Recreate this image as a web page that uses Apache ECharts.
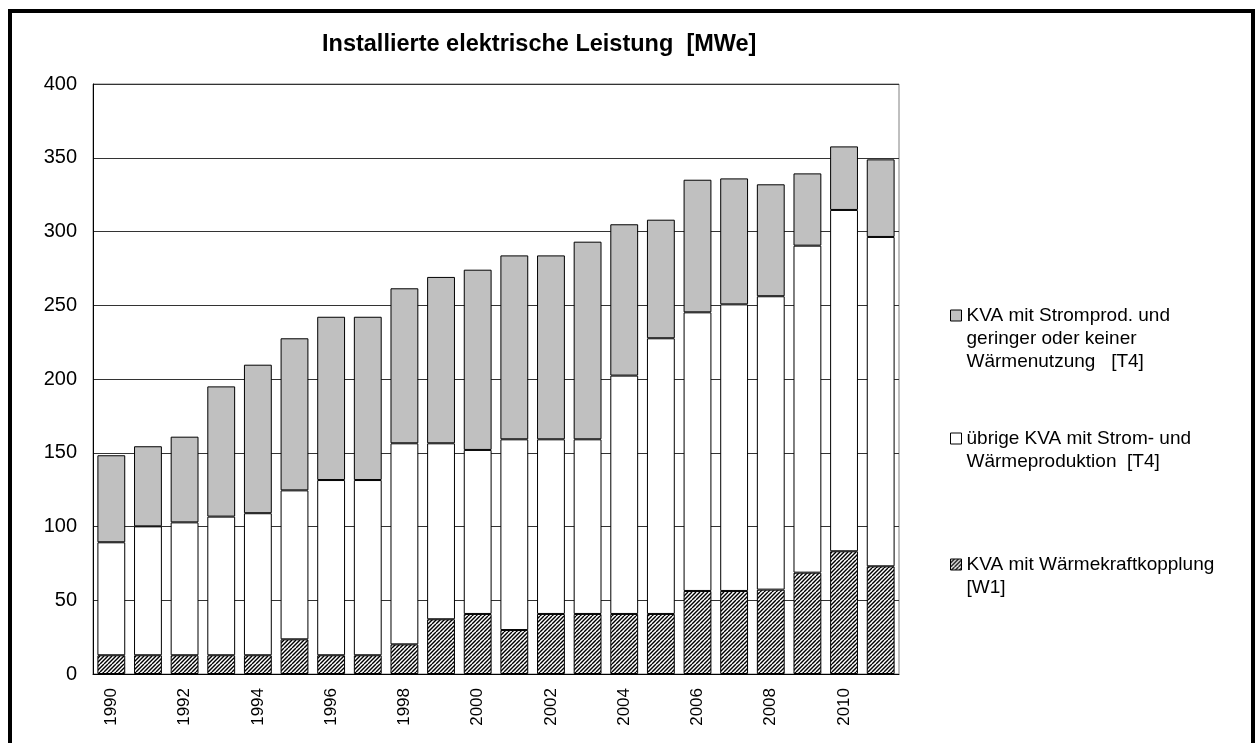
<!DOCTYPE html>
<html>
<head>
<meta charset="utf-8">
<script src="https://cdn.jsdelivr.net/npm/echarts@6/dist/echarts.min.js"></script>
<style>
html, body { margin: 0; padding: 0; background: #fff; }
#chart { width: 1260px; height: 743px; }
</style>
</head>
<body>
<div id="chart"></div>
<script>
// Jahre
var years = ['1990', '1991', '1992', '1993', '1994', '1995', '1996', '1997', '1998', '1999', '2000',
  '2001', '2002', '2003', '2004', '2005', '2006', '2007', '2008', '2009', '2010', '2011']

// KVA mit Waermekraftkopplung [W1]
var wkk = [12.7, 12.7, 12.7, 12.7, 12.7, 23.5, 12.7, 12.7, 20.1, 37.1, 40.7,
  29.8, 40.7, 40.7, 40.7, 40.7, 56.3, 56.3, 57.2, 68.7, 83.2, 73.0]

// uebrige KVA mit Strom- und Waermeproduktion [T4]
var uebrige = [76.6, 87.4, 90.1, 94.0, 96.3, 101.0, 118.8, 118.8, 136.3, 119.3, 111.2,
  129.3, 118.4, 118.4, 161.6, 186.9, 188.9, 194.3, 198.9, 221.7, 231.4, 223.3]

// KVA mit Stromprod. und geringer oder keiner Waermenutzung [T4]
var stromprod = [59.0, 54.3, 58.1, 88.3, 100.7, 103.1, 110.7, 110.7, 105.1, 112.8, 122.2,
  124.7, 124.7, 134.0, 102.6, 80.4, 89.9, 85.4, 75.9, 49.0, 43.1, 52.6]

var yTicks = [0, 50, 100, 150, 200, 250, 300, 350, 400]

var names = [
  'KVA mit Stromprod. und\ngeringer oder keiner\nWärmenutzung   [T4]',
  'übrige KVA mit Strom- und\nWärmeproduktion  [T4]',
  'KVA mit Wärmekraftkopplung\n[W1]'
]

var font = 'Liberation Sans, Arial, sans-serif'

// Schraffur
function hatch () {
  var c = document.createElement('canvas')
  c.width = 8
  c.height = 8
  var ctx = c.getContext('2d')
  ctx.fillStyle = '#fff'
  ctx.fillRect(0, 0, 8, 8)
  ctx.strokeStyle = '#000'
  ctx.lineWidth = 1.4
  for (var x0 = -8; x0 <= 8; x0 += 4) {
    ctx.beginPath()
    ctx.moveTo(x0, 8)
    ctx.lineTo(x0 + 8, 0)
    ctx.stroke()
  }
  return c
}
var hatchFill = { image: hatch(), repeat: 'repeat' }

var lh = 23
// leere Zeilen oben, damit das Symbol auf Hoehe der ersten Zeile steht
function legendFor (name, top) {
  var lines = name.split('\n').length
  var pad = ''
  for (var i = 1; i < lines; i++) pad += '\n'
  return {
    data: [name],
    orient: 'vertical',
    left: 950,
    top: top,
    padding: 0,
    itemWidth: 11,
    itemHeight: 11,
    selectedMode: false,
    icon: 'rect',
    itemStyle: { borderColor: '#000', borderWidth: 1 },
    formatter: function (n) { return pad + n },
    textStyle: {
      fontFamily: font,
      fontSize: 19,
      color: '#000',
      lineHeight: lh
    }
  }
}

var chart = echarts.init(document.getElementById('chart'))
chart.setOption({
  backgroundColor: '#fff',
  animation: false,
  title: {
    text: 'Installierte elektrische Leistung  [MWe]',
    left: 322,
    top: 33,
    padding: 0,
    textStyle: { fontFamily: font, fontSize: 23.5, fontWeight: 'bold', color: '#000' }
  },
  legend: [
    legendFor(names[0], 258),
    legendFor(names[1], 404),
    legendFor(names[2], 530)
  ],
  grid: {
    left: 93,
    right: 361,
    top: 84,
    bottom: 69,
    show: true,
    borderColor: '#808080',
    borderWidth: 1
  },
  xAxis: {
    type: 'category',
    data: years,
    axisLine: { show: true, lineStyle: { color: '#000', width: 1 } },
    axisTick: { show: false },
    axisLabel: {
      interval: 1,
      rotate: 90,
      margin: 14,
      fontFamily: font,
      fontSize: 17,
      color: '#000'
    }
  },
  yAxis: {
    type: 'value',
    min: yTicks[0],
    max: yTicks[yTicks.length - 1],
    interval: 50,
    axisLine: { show: true, lineStyle: { color: '#000', width: 1 } },
    axisTick: { show: false },
    axisLabel: { margin: 16, fontFamily: font, fontSize: 20, color: '#000' },
    splitLine: { show: true, lineStyle: { color: '#333', width: 1 } }
  },
  series: [
    {
      name: names[2],
      type: 'bar',
      stack: 'kva',
      barCategoryGap: '24%',
      data: wkk,
      itemStyle: { color: hatchFill, borderColor: '#000', borderWidth: 1 }
    },
    {
      name: names[1],
      type: 'bar',
      stack: 'kva',
      data: uebrige,
      itemStyle: { color: '#fff', borderColor: '#000', borderWidth: 1 }
    },
    {
      name: names[0],
      type: 'bar',
      stack: 'kva',
      data: stromprod,
      itemStyle: { color: '#c0c0c0', borderColor: '#000', borderWidth: 1 }
    }
  ],
  graphic: [
    {
      type: 'rect',
      shape: { x: 10, y: 11, width: 1243, height: 800 },
      style: { fill: 'none', stroke: '#000', lineWidth: 4 },
      silent: true
    }
  ]
})
</script>
</body>
</html>
